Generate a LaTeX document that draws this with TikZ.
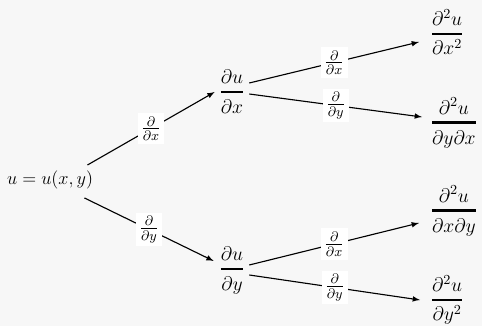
\documentclass[tikz,border=0pt]{standalone}
\usepackage{fix-cm}
\usepackage{amsmath}
\usetikzlibrary{calc}

\newcommand{\pdfr}[3]{\genfrac{}{}{#1}{0}{#2}{#3}}

\begin{document}
\begin{tikzpicture}[x=0.025cm, y=-0.025cm,
  term/.style={inner sep=3pt, font=\fontsize{14}{16}\selectfont},
  dlabel/.style={fill=white, inner sep=2.5pt, font=\fontsize{14}{16}\selectfont},
  edge/.style={->, >=latex, line width=0.8pt}]
%%%%%%%%%%%%%%%%%%%
\fill[black!3] (0,0) rectangle (482,326);
\useasboundingbox (0,0) rectangle (482,326);

%%%%%%%%%%%%%%%%%%%
\node[term, font=\fontsize{13}{15}\selectfont] (root) at (50,180) {$u=u(x,y)$};
\node[term] (ux) at (232,92) {$\pdfr{1.6pt}{\partial u}{\partial x}$};
\node[term] (uy) at (232,271) {$\pdfr{1.6pt}{\partial u}{\partial y}$};
\node[term, anchor=west] (uxx) at (426,32) {$\pdfr{1.2pt}{\partial^2 u}{\partial x^2}$};
\node[term, anchor=west] (uyx) at (426,123) {$\pdfr{1.6pt}{\partial^2 u}{\partial y\partial x}$};
\node[term, anchor=west] (uxy) at (426,211) {$\pdfr{1.6pt}{\partial^2 u}{\partial x\partial y}$};
\node[term, anchor=west] (uyy) at (426,300) {$\pdfr{1.2pt}{\partial^2 u}{\partial y^2}$};

%%%%%%%%%%%%%%%%%%%
\draw[edge] ($(root.east)+(-10,-15)$) -- (ux.west) node[midway, dlabel] {$\frac{\partial}{\partial x}$};
\draw[edge] ($(root.east)+(-13,18)$) -- ($(uy.west)+(-1,-10)$) node[midway, dlabel] {$\frac{\partial}{\partial y}$};

\draw[edge] ($(ux.east)+(0,-9)$) -- ($(uxx.west)+(-7,10)$) node[midway, dlabel] {$\frac{\partial}{\partial x}$};
\draw[edge] ($(ux.east)+(0,2)$) -- ($(uyx.west)+(-4,-6)$) node[midway, dlabel] {$\frac{\partial}{\partial y}$};
\draw[edge] ($(uy.east)+(0,-6)$) -- ($(uxy.west)+(-7,12)$) node[midway, dlabel] {$\frac{\partial}{\partial x}$};
\draw[edge] ($(uy.east)+(0,4)$) -- ($(uyy.west)+(-6,0)$) node[midway, dlabel] {$\frac{\partial}{\partial y}$};
\end{tikzpicture}
\end{document}
